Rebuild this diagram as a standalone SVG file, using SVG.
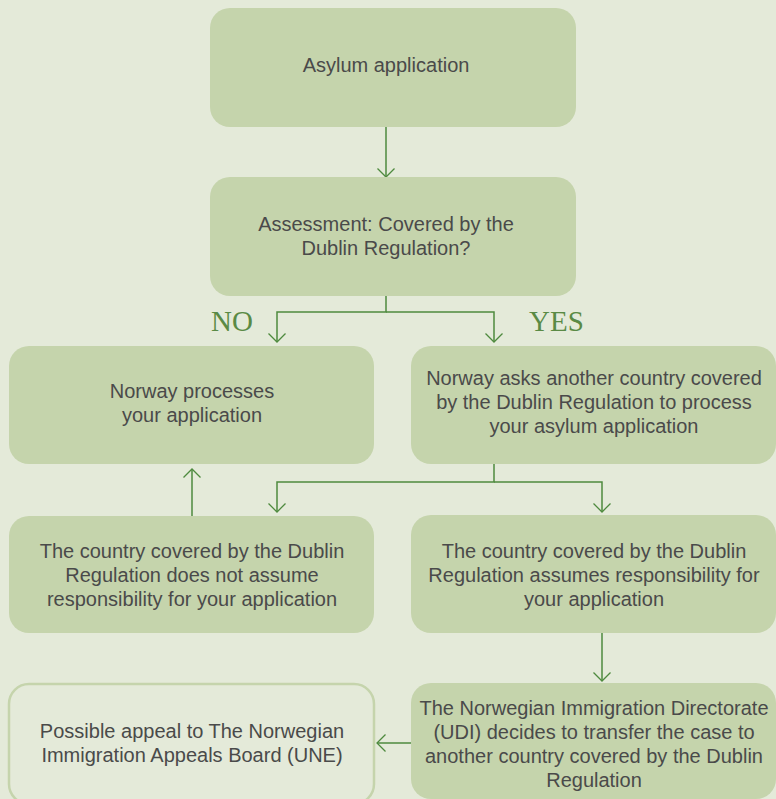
<svg xmlns="http://www.w3.org/2000/svg" width="776" height="799" viewBox="0 0 776 799">
<defs>
<marker id="ah" markerWidth="20" markerHeight="20" refX="10" refY="10" orient="auto" markerUnits="userSpaceOnUse">
<path d="M1.5,1.5 L10,10 L1.5,18.5" fill="none" stroke="#4e8a3e" stroke-width="1.3"/>
</marker>
<style>
.box{fill:#c5d4ac;}
.obox{fill:#e4ead9;stroke:#c5d4ac;stroke-width:2.5;}
.t{font-family:"Liberation Sans",Arial,sans-serif;font-size:20px;fill:#4a4a4a;text-anchor:middle;}
.lbl{font-family:"Liberation Serif","Times New Roman",serif;font-size:29px;fill:#5a8a45;}
.c{fill:none;stroke:#4e8a3e;stroke-width:1.5;}
</style>
</defs>
<rect width="776" height="799" fill="#e4ead9"/>
<g id="connectors">
<path class="c" d="M386,127 L386,177" marker-end="url(#ah)"/>
<path class="c" d="M386,296 L386,312 L277,312 L277,342" marker-end="url(#ah)"/>
<path class="c" d="M386,312 L494,312 L494,342" marker-end="url(#ah)"/>
<path class="c" d="M494,464 L494,482 L277,482 L277,512" marker-end="url(#ah)"/>
<path class="c" d="M494,482 L602,482 L602,512" marker-end="url(#ah)"/>
<path class="c" d="M192,516 L192,469" marker-end="url(#ah)"/>
<path class="c" d="M602,633 L602,681" marker-end="url(#ah)"/>
<path class="c" d="M411,743 L377,743" marker-end="url(#ah)"/>
</g>
<g id="labels">
<text class="lbl" x="211" y="331">NO</text>
<text class="lbl" x="529" y="331">YES</text>
</g>
<g id="n1">
<rect class="box" x="210" y="8" width="366" height="119" rx="20"/>
<text class="t" x="386" y="72">Asylum application</text>
</g>
<g id="n2">
<rect class="box" x="210" y="177" width="366" height="119" rx="20"/>
<text class="t" x="386" y="231">Assessment: Covered by the</text>
<text class="t" x="386" y="255">Dublin Regulation?</text>
</g>
<g id="n3">
<rect class="box" x="9" y="346" width="365" height="118" rx="20"/>
<text class="t" x="192" y="398">Norway processes</text>
<text class="t" x="192" y="422">your application</text>
</g>
<g id="n4">
<rect class="box" x="411" y="346" width="365" height="118" rx="20"/>
<text class="t" x="594" y="385">Norway asks another country covered</text>
<text class="t" x="594" y="409">by the Dublin Regulation to process</text>
<text class="t" x="594" y="433">your asylum application</text>
</g>
<g id="n5">
<rect class="box" x="9" y="516" width="365" height="117" rx="20"/>
<text class="t" x="192" y="558">The country covered by the Dublin</text>
<text class="t" x="192" y="582">Regulation does not assume</text>
<text class="t" x="192" y="606">responsibility for your application</text>
</g>
<g id="n6">
<rect class="box" x="411" y="515" width="365" height="118" rx="20"/>
<text class="t" x="594" y="558">The country covered by the Dublin</text>
<text class="t" x="594" y="582">Regulation assumes responsibility for</text>
<text class="t" x="594" y="606">your application</text>
</g>
<g id="n7">
<rect class="box" x="411" y="683" width="365" height="116" rx="20"/>
<text class="t" x="594" y="715">The Norwegian Immigration Directorate</text>
<text class="t" x="594" y="739">(UDI) decides to transfer the case to</text>
<text class="t" x="594" y="763">another country covered by the Dublin</text>
<text class="t" x="594" y="787">Regulation</text>
</g>
<g id="n8">
<rect class="obox" x="9" y="684" width="365" height="120" rx="20"/>
<text class="t" x="192" y="738">Possible appeal to The Norwegian</text>
<text class="t" x="192" y="762">Immigration Appeals Board (UNE)</text>
</g>
</svg>
